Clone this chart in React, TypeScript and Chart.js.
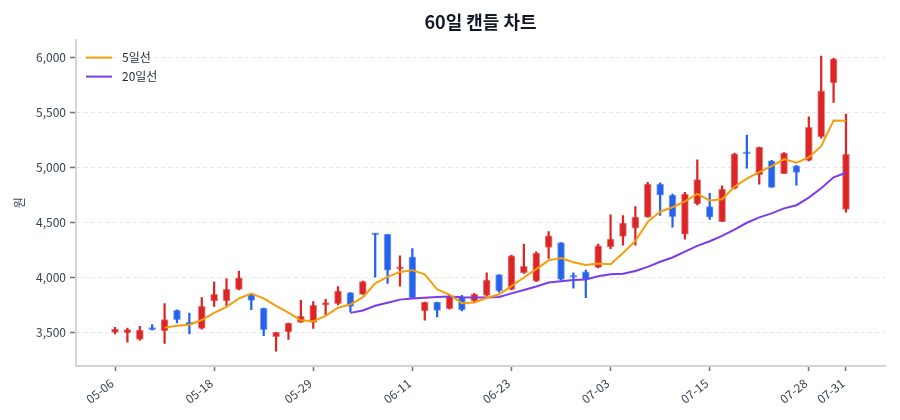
import { useEffect, useRef } from "react"
import { Chart, registerables, type ChartConfiguration, type Plugin } from "chart.js"

Chart.register(...registerables)
Chart.defaults.font.family = "'Noto Sans CJK KR', 'Noto Sans', sans-serif"

// trading days, 2026
const dates = [
  "05-06", "05-07", "05-08", "05-11", "05-12", "05-13", "05-14", "05-15", "05-18", "05-19",
  "05-20", "05-21", "05-22", "05-26", "05-27", "05-28", "05-29", "06-01", "06-02", "06-04",
  "06-05", "06-08", "06-09", "06-10", "06-11", "06-12", "06-15", "06-16", "06-17", "06-18",
  "06-19", "06-22", "06-23", "06-24", "06-25", "06-26", "06-29", "06-30", "07-01", "07-02",
  "07-03", "07-06", "07-07", "07-08", "07-09", "07-10", "07-13", "07-14", "07-15", "07-16",
  "07-20", "07-21", "07-22", "07-23", "07-24", "07-27", "07-28", "07-29", "07-30", "07-31",
]

const opens = [
  3505, 3500, 3440, 3540, 3520, 3705, 3595, 3540, 3790, 3790,
  3895, 3845, 3725, 3465, 3510, 3595, 3595, 3755, 3765, 3865,
  3850, 4395, 4395, 4080, 4190, 3700, 3780, 3720, 3825, 3790,
  3840, 4030, 3895, 4045, 3970, 4275, 4320, 4015, 4055, 4095,
  4280, 4375, 4450, 4550, 4850, 4750, 4395, 4670, 4645, 4510,
  4810, 5135, 4935, 5060, 4945, 5015, 5065, 5280, 5770, 4620,
]
const highs = [
  3550, 3545, 3560, 3575, 3765, 3710, 3680, 3820, 3960, 3990,
  4060, 3855, 3725, 3505, 3590, 3795, 3785, 3805, 3920, 3865,
  3970, 4400, 4395, 4200, 4265, 3780, 3780, 3840, 3840, 3860,
  4045, 4030, 4205, 4305, 4235, 4420, 4320, 4045, 4070, 4305,
  4570, 4565, 4645, 4865, 4860, 4760, 4775, 5070, 4765, 4835,
  5130, 5295, 5185, 5065, 5135, 5020, 5460, 6010, 5990, 5485,
]
const lows = [
  3490, 3415, 3435, 3525, 3405, 3590, 3490, 3535, 3740, 3750,
  3890, 3710, 3475, 3335, 3440, 3595, 3540, 3660, 3755, 3690,
  3850, 4005, 3950, 3925, 3820, 3615, 3645, 3715, 3700, 3780,
  3835, 3870, 3890, 4040, 3965, 4175, 3980, 3905, 3820, 4090,
  4265, 4295, 4295, 4550, 4565, 4460, 4350, 4660, 4530, 4510,
  4805, 4995, 4850, 4820, 4945, 4840, 5060, 5265, 5590, 4595,
]
const closes = [
  3535, 3530, 3525, 3530, 3620, 3620, 3575, 3740, 3850, 3895,
  4000, 3795, 3530, 3505, 3590, 3650, 3750, 3775, 3880, 3740,
  3965, 4390, 4070, 4100, 3820, 3780, 3705, 3835, 3710, 3850,
  3980, 3880, 4200, 4105, 4225, 4380, 3985, 4005, 3985, 4290,
  4350, 4495, 4550, 4850, 4750, 4555, 4760, 4890, 4550, 4805,
  5125, 5125, 5185, 4820, 5130, 4955, 5365, 5695, 5985, 5120,
]

const yTicks = [3500, 4000, 4500, 5000, 5500, 6000]
const xTickIndexes = [0, 8, 16, 24, 32, 40, 48, 56, 59]

const UP = "#dc2626"
const DOWN = "#2563eb"
const UP_EDGE = "rgba(220, 38, 38, 0.55)"
const DOWN_EDGE = "rgba(37, 99, 235, 0.55)"

function movingAverage(values: number[], n: number) {
  const out: { x: number; y: number }[] = []
  for (let i = n - 1; i < values.length; i++) {
    let s = 0
    for (let j = i - n + 1; j <= i; j++) s += values[j]
    out.push({ x: i, y: s / n })
  }
  return out
}

// legend drawn inside the plot, top-left
const innerLegend: Plugin = {
  id: "innerLegend",
  afterDatasetsDraw(chart) {
    const { ctx, chartArea } = chart
    const items = chart.data.datasets.filter((d: any) => d.type === "line")
    ctx.save()
    items.forEach((d: any, k) => {
      const x = chartArea.left + 10
      const y = chartArea.top + 18 + k * 19
      ctx.strokeStyle = d.borderColor
      ctx.lineWidth = 2
      ctx.beginPath()
      ctx.moveTo(x, y)
      ctx.lineTo(x + 26, y)
      ctx.stroke()
      ctx.fillStyle = "#1f2937"
      ctx.font = "12px 'Noto Sans CJK KR'"
      ctx.textBaseline = "middle"
      ctx.textAlign = "left"
      ctx.fillText(d.label, x + 36, y)
    })
    ctx.restore()
  },
}

export default function App() {
  const canvasRef = useRef<HTMLCanvasElement>(null)
  const chartRef = useRef<Chart | null>(null)

  useEffect(() => {
    if (!canvasRef.current) return
    if (chartRef.current) chartRef.current.destroy()

    const isUp = closes.map((c, i) => c >= opens[i])

    const config: ChartConfiguration<"bar" | "line", any, any> = {
      type: "bar",
      data: {
        datasets: [
          {
            type: "line",
            label: "5일선",
            data: movingAverage(closes, 5),
            borderColor: "#f59e0b",
            backgroundColor: "#f59e0b",
            borderWidth: 2,
            pointRadius: 0,
            tension: 0,
            order: 0,
          },
          {
            type: "line",
            label: "20일선",
            data: movingAverage(closes, 20),
            borderColor: "#7c3aed",
            backgroundColor: "#7c3aed",
            borderWidth: 2,
            pointRadius: 0,
            tension: 0,
            order: 1,
          },
          {
            type: "bar",
            label: "body",
            data: opens.map((o, i) => ({ x: i, y: [o, closes[i]] })),
            backgroundColor: isUp.map((u) => (u ? UP : DOWN)),
            borderColor: isUp.map((u) => (u ? UP_EDGE : DOWN_EDGE)),
            borderWidth: 1,
            borderSkipped: false,
            barThickness: 7,
            minBarLength: 2,
            grouped: false,
            order: 2,
          },
          {
            type: "bar",
            label: "wick",
            data: lows.map((l, i) => ({ x: i, y: [l, highs[i]] })),
            backgroundColor: isUp.map((u) => (u ? UP : DOWN)),
            borderWidth: 0,
            barThickness: 1.6,
            grouped: false,
            order: 3,
          },
        ],
      },
      options: {
        animation: false,
        responsive: true,
        maintainAspectRatio: false,
        layout: { padding: { left: 0, right: 15, top: 0, bottom: 0 } },
        plugins: {
          legend: { display: false },
          tooltip: { enabled: false },
          title: {
            display: true,
            text: "60일 캔들 차트",
            fullSize: false,
            color: "#111827",
            font: { size: 18, weight: "bold" },
            padding: { top: 11, bottom: 7 },
          },
        },
        scales: {
          x: {
            type: "linear",
            min: -3.15,
            max: 62.15,
            offset: false,
            afterBuildTicks: (s: any) => {
              s.ticks = xTickIndexes.map((v) => ({ value: v }))
            },
            afterFit: (s: any) => {
              s.height = 54
            },
            ticks: {
              autoSkip: false,
              minRotation: 38,
              maxRotation: 38,
              labelOffset: -3,
              color: "#374151",
              font: { size: 12 },
              padding: 5,
              callback: (v: any) => dates[v as number] ?? "",
            },
            grid: {
              offset: false,
              drawOnChartArea: false,
              tickLength: 5,
              tickColor: "#6b7280",
              tickWidth: 1.5,
            },
            border: { color: "#d1d5db", width: 2 },
          },
          y: {
            min: 3200,
            max: 6160,
            afterBuildTicks: (s: any) => {
              s.ticks = yTicks.map((v) => ({ value: v }))
            },
            afterFit: (s: any) => {
              s.width = 76
            },
            ticks: {
              color: "#374151",
              font: { size: 12 },
              padding: 4,
              callback: (v: any) => Number(v).toLocaleString("en-US"),
            },
            grid: { color: "#e5e7eb", tickLength: 6, tickColor: "#6b7280", tickWidth: 1.5 },
            border: { color: "#d1d5db", width: 2, dash: [4, 3] },
            title: {
              display: true,
              text: "원",
              color: "#374151",
              font: { size: 12 },
              padding: { top: 12, bottom: 0 },
            },
          },
        },
      },
      plugins: [innerLegend],
    }

    chartRef.current = new Chart(canvasRef.current, config)

    return () => {
      if (chartRef.current) {
        chartRef.current.destroy()
        chartRef.current = null
      }
    }
  }, [])

  return (
    <div style={{ position: "fixed", left: 0, top: 0, width: 900, height: 420, background: "#fff" }}>
      <canvas ref={canvasRef}></canvas>
    </div>
  )
}
